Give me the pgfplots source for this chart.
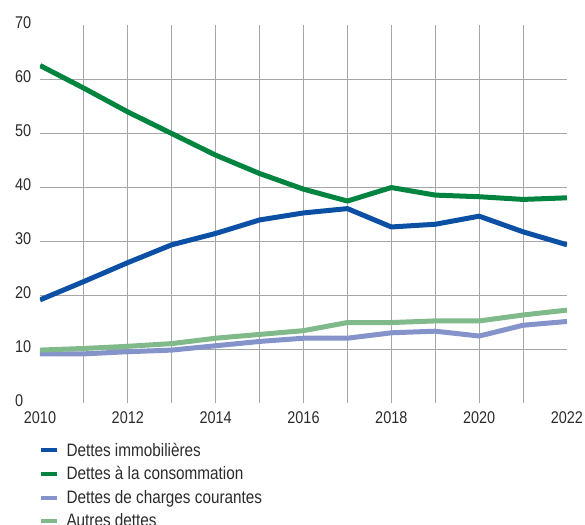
\documentclass[border=0pt]{standalone}
\usepackage{pgfplots}
\pgfplotsset{compat=1.18}
\usepackage{fontspec}
\setmainfont{Liberation Sans}[FakeStretch=0.85]
\definecolor{cblue}{HTML}{0B50A4}
\definecolor{cgreen}{HTML}{00843F}
\definecolor{cpurple}{HTML}{8593CB}
\definecolor{clgreen}{HTML}{80B98A}
\definecolor{cgrid}{HTML}{A6A6A6}
\definecolor{ctext}{HTML}{2B2B2B}
\begin{document}
\begin{tikzpicture}[x=1pt,y=1pt]
\useasboundingbox (0,0) rectangle (585,-524);
\begin{axis}[
  at={(40pt,-403pt)}, anchor=south west,
  scale only axis, width=527pt, height=378pt,
  xmin=2010, xmax=2022, ymin=0, ymax=70,
  axis line style={draw=none},
  xtick={2010,...,2022},
  xticklabels={2010,,2012,,2014,,2016,,2018,,2020,,2022},
  ytick={0,10,...,70},
  minor xtick={2011,...,2021},
  minor ytick={10,20,...,60},
  xminorgrids, yminorgrids,
  minor grid style={draw=cgrid, line width=0.9pt},
  major tick length=0pt, minor tick length=0pt,
  tick style={draw=none},
  /pgf/number format/assume math mode=true,
  /pgf/number format/set thousands separator={},
  every tick label/.append style={font=\fontsize{17pt}{20pt}\selectfont, text=ctext},
  xticklabel style={anchor=center, yshift=-15pt, inner sep=0pt},
  yticklabel style={anchor=west, xshift=-25pt, yshift=2pt, inner sep=0pt},
  legend cell align=left,
  legend image code/.code={
    \draw[line width=4pt, #1] (0pt,5.8pt) -- (16pt,5.8pt);
    \path (23pt,5.8pt);
  },
  legend style={
    at={(0,0)}, anchor=north west, xshift=-1pt, yshift=-40pt,
    draw=none, fill=none, inner sep=0pt, outer sep=0pt,
    row sep=6.65pt,
    font=\fontsize{18pt}{21pt}\selectfont, text=ctext,
    nodes={inner sep=0pt, text height=13pt, text depth=4pt, anchor=base west},
  },
  every axis plot/.append style={line width=5pt, line join=round},
]
\addplot[cblue] coordinates {
(2010,19.1) (2011,22.5) (2012,26.0) (2013,29.3) (2014,31.4) (2015,33.9) (2016,35.2)
(2017,36.0) (2018,32.6) (2019,33.1) (2020,34.6) (2021,31.7) (2022,29.3)};
\addlegendentry{Dettes immobilières}
\addplot[cgreen] coordinates {
(2010,62.5) (2011,58.3) (2012,53.9) (2013,49.9) (2014,45.9) (2015,42.5) (2016,39.6)
(2017,37.4) (2018,39.9) (2019,38.5) (2020,38.2) (2021,37.7) (2022,38.0)};
\addlegendentry{Dettes à la consommation}
\addplot[cpurple] coordinates {
(2010,9.1) (2011,9.1) (2012,9.5) (2013,9.8) (2014,10.6) (2015,11.4) (2016,12.0)
(2017,12.0) (2018,13.0) (2019,13.3) (2020,12.4) (2021,14.4) (2022,15.1)};
\addlegendentry{Dettes de charges courantes}
\addplot[clgreen] coordinates {
(2010,9.8) (2011,10.1) (2012,10.5) (2013,11.0) (2014,12.0) (2015,12.7) (2016,13.4)
(2017,14.9) (2018,14.9) (2019,15.2) (2020,15.2) (2021,16.3) (2022,17.2)};
\addlegendentry{Autres dettes}
\end{axis}
\end{tikzpicture}
\end{document}
